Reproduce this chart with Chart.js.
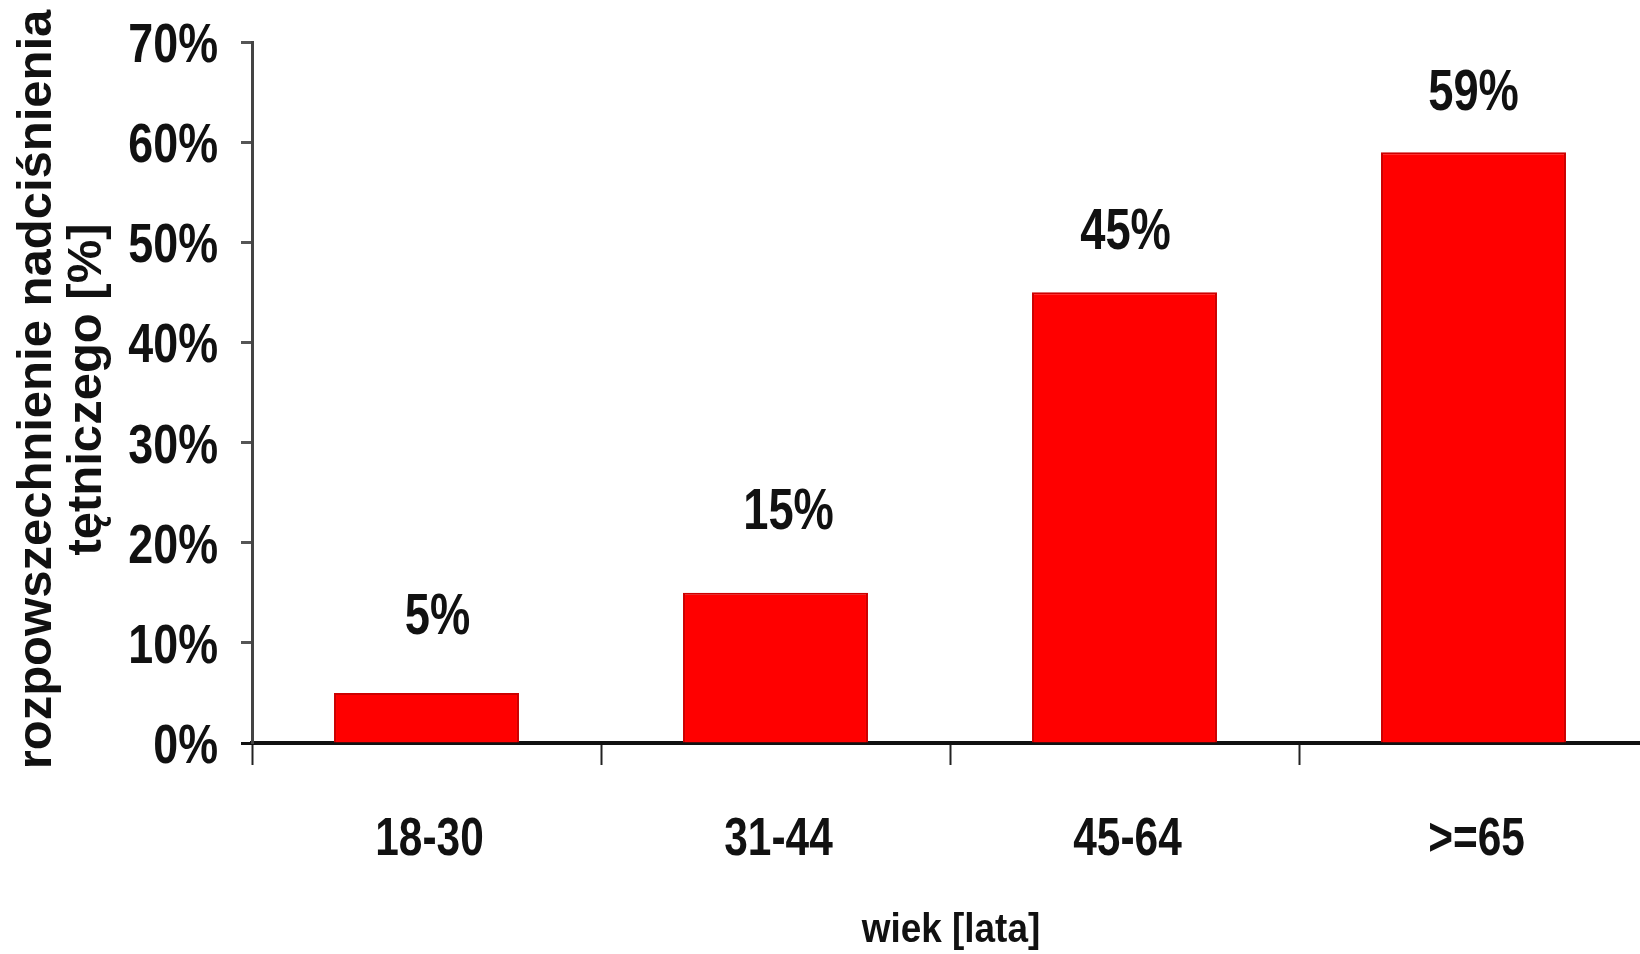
<!DOCTYPE html>
<html lang="pl">
<head>
<meta charset="utf-8">
<title>Rozpowszechnienie nadciśnienia tętniczego wg wieku</title>
<script src="https://cdn.jsdelivr.net/npm/chart.js@4.4.1/dist/chart.umd.min.js"></script>
<style>
  html, body { margin: 0; padding: 0; background: #ffffff; overflow: hidden; }
  /* plot runs slightly past the right window edge */
  #wrap { width: 1648px; height: 954px; position: relative; }
</style>
</head>
<body>
<div id="wrap"><canvas id="chart"></canvas></div>
<script>
// Age groups and prevalence of hypertension (%)
const categories = ['18-30', '31-44', '45-64', '>=65'];
const prevalence = [5, 15, 45, 59];
const yTicks = [0, 10, 20, 30, 40, 50, 60, 70];
const yTitle = ['rozpowszechnienie nadciśnienia', 'tętniczego [%]'];
const xTitle = 'wiek [lata]';

const FAMILY = '"Liberation Sans", Arial, sans-serif';
const INK = '#111111';

// Draws a string squeezed horizontally (narrow bold face look)
function narrowText(ctx, text, x, y, size, sx, align) {
  ctx.save();
  ctx.font = 'bold ' + size + 'px ' + FAMILY;
  ctx.fillStyle = INK;
  ctx.textAlign = align;
  ctx.textBaseline = 'alphabetic';
  ctx.translate(x, y);
  ctx.scale(sx, 1);
  ctx.fillText(text, 0, 0);
  ctx.restore();
}

// Tick labels, axis titles and value labels
const chartText = {
  id: 'chartText',
  afterDraw(chart, args, o) {
    const ctx = chart.ctx;
    const xs = chart.scales.x, ys = chart.scales.y, area = chart.chartArea;

    // y tick labels
    ys.ticks.forEach(t => {
      const y = ys.getPixelForValue(t.value);
      narrowText(ctx, t.value + '%', ys.right - 34, y + 20, o.yTickSize, o.yTickSx, 'right');
    });

    // x tick labels
    categories.forEach((c, i) => {
      narrowText(ctx, c, xs.getPixelForValue(i) + 3, area.bottom + 112, o.xTickSize, o.xTickSx, 'center');
    });

    // x title
    narrowText(ctx, xTitle, (area.left + area.right) / 2 + 1, chart.height - 12, o.xTitleSize, o.xTitleSx, 'center');

    // y title, two rotated lines
    ctx.save();
    ctx.font = 'bold ' + o.yTitleSize + 'px ' + FAMILY;
    ctx.fillStyle = INK;
    ctx.textAlign = 'center';
    ctx.textBaseline = 'middle';
    ctx.translate(0, (area.top + area.bottom) / 2 - 3);
    ctx.rotate(-Math.PI / 2);
    yTitle.forEach((line, i) => ctx.fillText(line, 0, 37 + i * 50));
    ctx.restore();

    // value labels above bars
    const meta = chart.getDatasetMeta(0);
    meta.data.forEach((bar, i) => {
      const v = chart.data.datasets[0].data[i];
      narrowText(ctx, v + '%', bar.x + o.dx[i], bar.y - o.rise[i], o.valueSize, o.valueSx, 'center');
    });
  }
};

new Chart(document.getElementById('chart'), {
  type: 'bar',
  data: {
    labels: categories,
    datasets: [{
      data: prevalence,
      backgroundColor: '#ff0000',
      borderColor: '#cc0000',
      borderWidth: 2,
      barPercentage: 0.53,
      categoryPercentage: 1.0
    }]
  },
  options: {
    responsive: true,
    maintainAspectRatio: false,
    animation: false,
    layout: { padding: { top: 42, left: 0, right: 0, bottom: 0 } },
    plugins: {
      legend: { display: false },
      tooltip: { enabled: false },
      chartText: {
        yTickSize: 56, yTickSx: 0.8,
        xTickSize: 53, xTickSx: 0.8,
        valueSize: 58, valueSx: 0.78,
        xTitleSize: 41, xTitleSx: 0.9,
        yTitleSize: 49,
        rise: [59, 64, 43, 42],
        dx: [11, 13, 1, 0]
      }
    },
    scales: {
      x: {
        offset: true,
        afterFit(scale) { scale.height = 211; },
        grid: {
          offset: true,
          drawOnChartArea: false,
          drawTicks: true,
          tickLength: 22,
          tickWidth: 2,
          tickColor: '#222222'
        },
        border: { display: true, color: '#111111', width: 4 },
        ticks: { display: false },
        title: { display: false }
      },
      y: {
        min: 0,
        max: 70,
        afterFit(scale) { scale.width = 252; },
        afterBuildTicks(scale) { scale.ticks = yTicks.map(v => ({ value: v })); },
        grid: {
          drawOnChartArea: false,
          drawTicks: true,
          tickLength: 11,
          tickWidth: 3,
          tickColor: ctx => (ctx.tick && ctx.tick.value === 0 ? '#111111' : '#555555')
        },
        border: { display: true, color: '#444444', width: 3 },
        ticks: { display: false },
        title: { display: false }
      }
    }
  },
  plugins: [chartText]
});
</script>
</body>
</html>
